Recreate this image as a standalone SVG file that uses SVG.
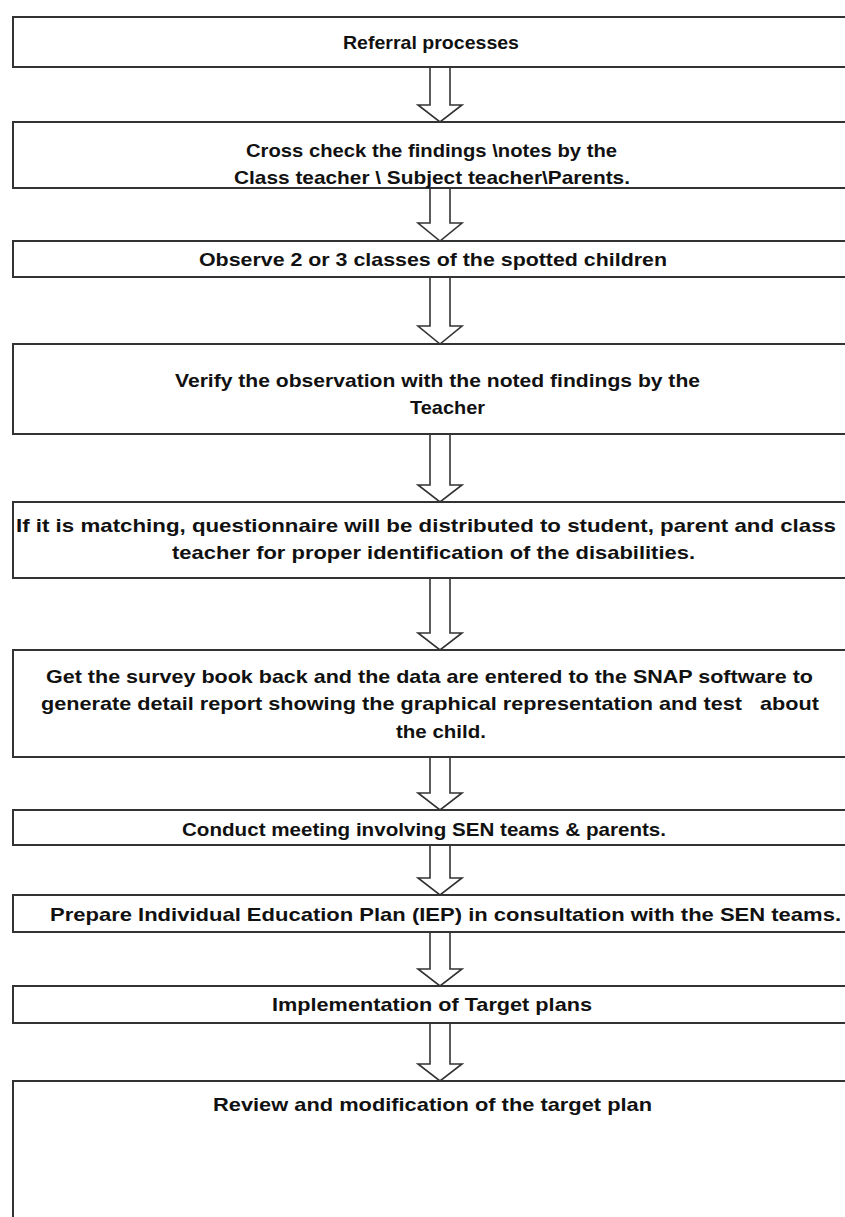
<svg xmlns="http://www.w3.org/2000/svg" width="845" height="1217" viewBox="0 0 845 1217">
<style>
.box{fill:#fff;stroke:#333;stroke-width:2}
.arr{fill:#fff;stroke:#333;stroke-width:1.6;stroke-linejoin:miter}
text{font-family:"Liberation Sans",Arial,sans-serif;font-weight:bold;font-size:19px;fill:#111}
</style>
<rect width="845" height="1217" fill="#fff"/>
<g id="connectors">
<path class="arr" d="M430,67 V105 H418 L440,122 L462,105 H450 V67"/>
<path class="arr" d="M430,188 V223 H418 L440,241 L462,223 H450 V188"/>
<path class="arr" d="M430,277 V326 H418 L440,344 L462,326 H450 V277"/>
<path class="arr" d="M430,434 V485 H418 L440,502 L462,485 H450 V434"/>
<path class="arr" d="M430,578 V633 H418 L440,650 L462,633 H450 V578"/>
<path class="arr" d="M430,757 V793 H418 L440,810 L462,793 H450 V757"/>
<path class="arr" d="M430,845 V878 H418 L440,895 L462,878 H450 V845"/>
<path class="arr" d="M430,932 V969 H418 L440,986 L462,969 H450 V932"/>
<path class="arr" d="M430,1023 V1064 H418 L440,1081 L462,1064 H450 V1023"/>
</g>
<g id="n1"><rect class="box" x="13" y="17" width="850" height="50"/><text x="343" y="49" textLength="176" lengthAdjust="spacingAndGlyphs">Referral processes</text></g>
<g id="n2"><rect class="box" x="13" y="122" width="850" height="66"/><text x="246" y="157" textLength="371" lengthAdjust="spacingAndGlyphs">Cross check the findings \notes by the</text><text x="234" y="184" textLength="396" lengthAdjust="spacingAndGlyphs">Class teacher \ Subject teacher\Parents.</text></g>
<g id="n3"><rect class="box" x="13" y="241" width="850" height="36"/><text x="199" y="266" textLength="468" lengthAdjust="spacingAndGlyphs">Observe 2 or 3 classes of the spotted children</text></g>
<g id="n4"><rect class="box" x="13" y="344" width="850" height="90"/><text x="175" y="387" textLength="525" lengthAdjust="spacingAndGlyphs">Verify the observation with the noted findings by the</text><text x="410" y="414" textLength="75" lengthAdjust="spacingAndGlyphs">Teacher</text></g>
<g id="n5"><rect class="box" x="13" y="502" width="850" height="76"/><text x="16" y="532" textLength="820" lengthAdjust="spacingAndGlyphs">If it is matching, questionnaire will be distributed to student, parent and class</text><text x="172" y="559" textLength="523" lengthAdjust="spacingAndGlyphs">teacher for proper identification of the disabilities.</text></g>
<g id="n6"><rect class="box" x="13" y="650" width="850" height="107"/><text x="46" y="683" textLength="767" lengthAdjust="spacingAndGlyphs">Get the survey book back and the data are entered to the SNAP software to</text><text x="41" y="710" textLength="778" lengthAdjust="spacingAndGlyphs" xml:space="preserve">generate detail report showing the graphical representation and test   about</text><text x="396" y="738" textLength="90" lengthAdjust="spacingAndGlyphs">the child.</text></g>
<g id="n7"><rect class="box" x="13" y="810" width="850" height="35"/><text x="182" y="836" textLength="484" lengthAdjust="spacingAndGlyphs">Conduct meeting involving SEN teams &amp; parents.</text></g>
<g id="n8"><rect class="box" x="13" y="895" width="850" height="37"/><text x="50" y="921" textLength="791" lengthAdjust="spacingAndGlyphs">Prepare Individual Education Plan (IEP) in consultation with the SEN teams.</text></g>
<g id="n9"><rect class="box" x="13" y="986" width="850" height="37"/><text x="272" y="1011" textLength="320" lengthAdjust="spacingAndGlyphs">Implementation of Target plans</text></g>
<g id="n10"><rect class="box" x="13" y="1081" width="850" height="160"/><text x="213" y="1111" textLength="439" lengthAdjust="spacingAndGlyphs">Review and modification of the target plan</text></g>
</svg>
